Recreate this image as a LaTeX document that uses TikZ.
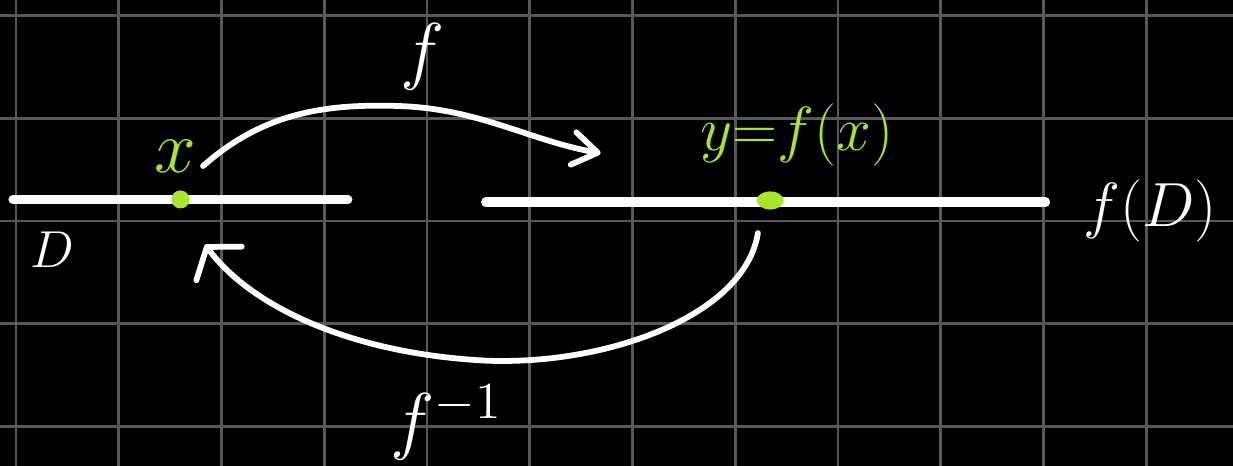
\documentclass[tikz,border=0pt]{standalone}
\usepackage{amsmath, amssymb}
\usepackage{xcolor}
\usepackage{tikz}
\usetikzlibrary{arrows.meta, positioning, calc, shapes.geometric}

\definecolor{chalkgreen}{RGB}{168,230,45}
\definecolor{gridgray}{RGB}{88,88,88}

\begin{document}
\begin{tikzpicture}[
    setline/.style={line width=2.5pt, white, line cap=round},
    mapline/.style={line width=1.6pt, white, line cap=round},
    dot/.style={circle, fill=chalkgreen, inner sep=0pt, minimum size=5pt},
    chalk/.style={white, inner sep=0pt}
]
    % 背景与网格
    \fill[black] (-0.156, -2.384) rectangle (11.844, 2.151);
    \useasboundingbox (-0.156, -2.384) rectangle (11.844, 2.151);
    \draw[gridgray, line width=0.75pt] (-0.156, -2.384) grid (11.844, 2.151);

    % 定义域 D 与值域 f(D)
    \coordinate (dl) at (-0.03, 0.21);
    \coordinate (dr) at (3.23, 0.21);
    \coordinate (rl) at (4.57, 0.185);
    \coordinate (rr) at (10.02, 0.185);
    \draw[setline] (dl) -- (dr);
    \draw[setline] (rl) -- (rr);
    \node[chalk, font=\fontsize{15}{18}\selectfont] (dlab) at (0.35, -0.28) {$D$};
    \node[chalk, font=\fontsize{18}{22}\selectfont] (rlab) at (11.04, 0.1) {$f(D)$};

    % 点 x 与 y=f(x)
    \node[dot] (px) at (1.6, 0.21) {};
    \node[dot, ellipse, minimum width=7.5pt, minimum height=5pt] (py) at (7.34, 0.2) {};
    \node[chalkgreen, font=\fontsize{20}{24}\selectfont] (xlab) at (1.55, 0.63) {$x$};
    \node[chalkgreen, font=\fontsize{16}{19}\selectfont] (ylab) at (7.6, 0.84) {$y{=}f(x)$};

    % 映射 f
    \coordinate (fs) at (1.82, 0.535);
    \coordinate (fe) at (5.69, 0.66);
    \draw[mapline, -{Straight Barb[length=2.4mm, width=3.2mm, round]}]
        (fs) .. controls (2.4, 1.05) and (3.0, 1.14) .. (3.7, 1.12)
             .. controls (4.5, 1.1) and (5.0, 0.78) .. (fe);
    \node[chalk, font=\fontsize{22}{26}\selectfont] (flab) at (3.96, 1.6) {$f$};

    % 逆映射 f^{-1}
    \coordinate (gs) at (7.22, -0.117);
    \coordinate (ge) at (1.84, -0.23);
    \draw[mapline, -{Straight Barb[length=2mm, width=5.5mm, round]}]
        (gs) .. controls (7.1, -0.9) and (5.8, -1.4) .. (4.6, -1.36)
             .. controls (3.3, -1.3) and (2.3, -0.85) .. (ge);
    \node[chalk, font=\fontsize{21}{25}\selectfont] (glab) at (4.19, -1.96) {$f^{-1}$};
\end{tikzpicture}
\end{document}
